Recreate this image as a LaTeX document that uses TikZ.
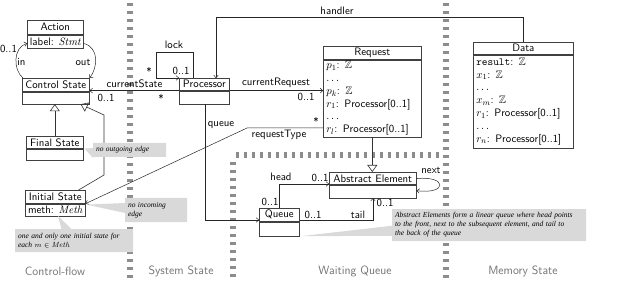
\documentclass[tikz,border=0pt]{standalone}
\usepackage{amssymb}
\usepackage{fontspec}
\newfontfamily\notefam{Liberation Serif}
\usetikzlibrary{shapes.callouts,arrows.meta,calc}
\newcommand\umlfnt{\fontsize{10.8}{12.8}\selectfont\sffamily}
\newcommand\notefnt{\fontsize{7.5}{9}\selectfont\notefam\itshape}
\newcommand\secfnt{\fontsize{12}{14}\selectfont\sffamily}
\begin{document}
\begin{tikzpicture}[x=1pt,y=-1pt,
 hdr/.style={draw=black!75, line width=0.6pt, anchor=north west, inner sep=0pt, font=\umlfnt},
 bdy/.style={draw=black!75, line width=0.6pt, anchor=north, inner xsep=3pt, inner ysep=1pt, font=\umlfnt, align=left},
 assoc/.style={draw=black!85, line width=0.5pt, -{To[length=3pt,width=5pt]}},
 gen/.style={draw=black!80, line width=0.6pt, -{Triangle[open,length=7pt,width=10pt]}},
 lbl/.style={font=\umlfnt, inner sep=0pt},
 sep/.style={draw=black!45, line width=5.5pt, dash pattern=on 3pt off 5pt},
 sect/.style={font=\secfnt, text=black!55, inner sep=0pt},
 note/.style={rectangle callout, fill=gray!30, font=\notefnt, inner xsep=3pt, inner ysep=2pt, align=left, callout pointer width=10pt}
]
\useasboundingbox (0,0) rectangle (626,283);

% separators
\draw[sep] (130,3) -- (130,280);
\draw[sep] (446,3) -- (446,280);
\draw[sep] (236,155) -- (443,155);
\draw[sep] (233,162) -- (233,280);

% section labels
\node[sect] (s1) at (55,271) {Control-flow};
\node[sect] (s2) at (181,271) {System State};
\node[sect] (s3) at (355,271) {Waiting Queue};
\node[sect] (s4) at (523,271) {Memory State};

% classes
\node[hdr, minimum width=56pt, minimum height=14pt] (acth) at (27,20) {Action};
\node[bdy, minimum width=56pt, inner xsep=1pt, minimum height=13pt] (actb) at (acth.south) {label: $\mathit{Stmt}$};

\node[hdr, minimum width=67pt, minimum height=13pt] (csh) at (22,78) {Control State};
\node[bdy, minimum width=67pt, minimum height=12pt] (csb) at (csh.south) {};

\node[hdr, minimum width=57pt, minimum height=12pt] (fsh) at (26,136) {Final State};
\node[bdy, minimum width=57pt, minimum height=11pt] (fsb) at (fsh.south) {};

\node[hdr, minimum width=60pt, minimum height=13pt] (ish) at (25,190) {Initial State};
\node[bdy, minimum width=60pt, inner xsep=1pt, minimum height=12pt] (isb) at (ish.south) {meth: $\mathit{Meth}$};

\node[hdr, minimum width=50pt, minimum height=12pt] (proch) at (179,78) {Processor};
\node[bdy, minimum width=50pt, minimum height=13pt] (procb) at (proch.south) {};

\node[hdr, minimum width=98pt, minimum height=13pt] (reqh) at (323,46) {Request};
\node[bdy, minimum width=98pt, text width=92pt, minimum height=77pt] (reqb) at (reqh.south)
 {$p_1$: $\mathbb{Z}$\\ $\ldots$\\ $p_k$: $\mathbb{Z}$\\ $r_1$: Processor[0..1]\\ $\ldots$\\ $r_l$: Processor[0..1]};

\node[hdr, minimum width=100pt, minimum height=12pt] (datah) at (473,42) {Data};
\node[bdy, minimum width=100pt, text width=94pt, minimum height=93pt] (datab) at (datah.south)
 {\texttt{result}: $\mathbb{Z}$\\ $x_1$: $\mathbb{Z}$\\ $\ldots$\\ $x_m$: $\mathbb{Z}$\\ $r_1$: Processor[0..1]\\ $\ldots$\\ $r_n$: Processor[0..1]};

\node[hdr, minimum width=87pt, minimum height=12.5pt] (aeh) at (329,172) {Abstract Element};
\node[bdy, minimum width=87pt, minimum height=12.5pt] (aeb) at (aeh.south) {};

\node[hdr, minimum width=40pt, minimum height=13pt] (queh) at (259,208) {Queue};
\node[bdy, minimum width=40pt, minimum height=14pt] (queb) at (queh.south) {};

% in / out
\draw[assoc] ($(csh.north west)+(1,0)$) .. controls +(-10,-8) and +(-14,4) .. ($(actb.west)+(0,2)$);
\draw[assoc] ($(actb.east)+(0,2)$) .. controls +(16,4) and +(8,-10) .. (csh.north east);
\node[lbl] (lin) at (21.5,62) {in};
\node[lbl] (lout) at (83,62) {out};
\node[lbl] (lin01) at (8.5,49) {0..1};

% generalisations
\draw[gen] (fsh.north) -- (fsh.north |- csb.south);
\coordinate (isb1) at (104,175);
\coordinate (isb2) at (104,115);
\draw[gen] ($(ish.north east)+(-7,0)$) -- (isb1) -- (isb2) -- ($(csb.south east)+(-9,0)$);
\draw[gen] (reqb.south) -- (reqb.south |- aeh.north);

% currentState
\draw[assoc] (proch.south west) -- (proch.south west -| csh.east);
\node[lbl] (lcs) at (134.5,84) {currentState};
\node[lbl] (lcs1) at (106,98) {0..1};
\node[lbl] (lcs2) at (161,98) {*};

% currentRequest
\draw[assoc] (proch.south east) -- (proch.south east -| reqh.west);
\node[lbl] (lcr) at (276,83) {currentRequest};
\node[lbl] (lcr1) at (306,97) {0..1};

% lock
\coordinate (lk1) at (193,52);
\coordinate (lk2) at (156,52);
\coordinate (lk3) at (156,78);
\draw[assoc] (proch.north -| lk1) -- (lk1) -- (lk2) -- (lk3) -- (proch.north west);
\node[lbl] (llock) at (174,45) {lock};
\node[lbl] (llock1) at (149,71) {*};
\node[lbl] (llock2) at (181,71) {0..1};

% handler
\coordinate (hd1) at (523,17);
\coordinate (hd2) at (216,17);
\draw[assoc] (datah.north -| hd1) -- (hd1) -- (hd2) -- (hd2 |- proch.north);
\node[lbl] (lhand) at (337,11) {handler};

% queue
\coordinate (qu1) at (205,220);
\draw[assoc] (procb.south -| qu1) -- (qu1) -- (qu1 -| queh.west);
\node[lbl] (lqueue) at (221,125) {queue};

% requestType
\coordinate (rt1) at (247,128);
\draw[assoc] (rt1 -| reqb.west) -- (rt1) -- (ish.south east);
\node[lbl] (lrt) at (279,135) {requestType};
\node[lbl] (lrt1) at (316,121) {*};

% head
\coordinate (hh) at (279,184);
\draw[assoc] (queh.north -| hh) -- (hh) -- (hh -| aeh.west);
\node[lbl] (lhead) at (281,177) {head};
\node[lbl] (lhead1) at (320,178) {0..1};
\node[lbl] (lhead2) at (270,202) {0..1};

% tail
\coordinate (tl) at (373,220);
\draw[assoc] (tl -| queh.east) -- (tl) -- (tl |- aeb.south);
\node[lbl] (ltail1) at (313,215) {0..1};
\node[lbl] (ltail) at (358,215) {tail};
\node[lbl] (ltail2) at (385,203) {0..1};

% next
\draw[assoc] (aeh.east) .. controls +(31,-3) and +(31,4) .. ($(aeb.east)+(0,-1)$);
\node[lbl] (lnext) at (431,170) {next};

% notes
\node[note, text width=67pt, minimum height=14pt, callout absolute pointer={($(fsh.south east)+(1,0)$)}] (n1) at (129.5,150) {no outgoing edge};
\node[note, text width=56pt, minimum height=24pt, callout absolute pointer={($(ish.south east)+(1,1)$)}] (n2) at (156,210) {no incoming\\edge};
\node[note, text width=112pt, minimum height=23pt, callout absolute pointer={(58,216)}] (n3) at (74,240.5) {one and only one initial state for\\each $m\in\mathit{Meth}$};
\node[note, text width=188pt, minimum height=32pt, callout absolute pointer={($(queb.south east)+(1,0)$)}] (n4) at (489,225) {Abstract Elements form a linear queue where head points\\to the front, next to the subsequent element, and tail to\\the back of the queue};
\end{tikzpicture}
\end{document}
